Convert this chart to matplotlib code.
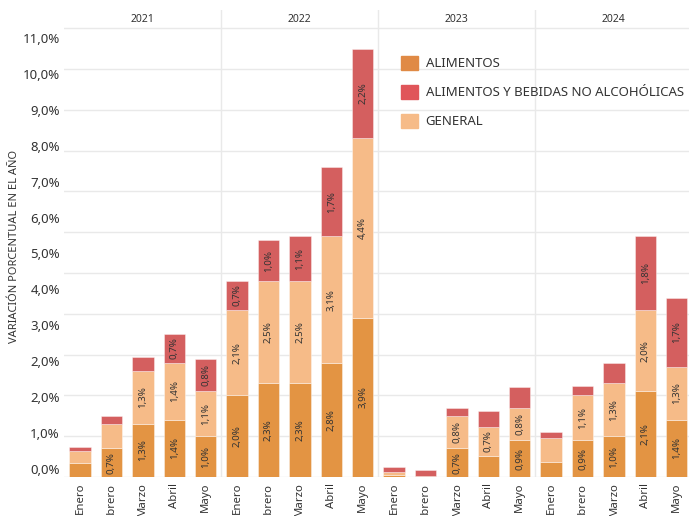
import matplotlib.pyplot as plt
from matplotlib.patches import Patch
from matplotlib.transforms import blended_transform_factory
import numpy as np

plt.rcParams['font.family'] = ['Noto Sans', 'DejaVu Sans']

# datos
anios = ['2021', '2022', '2023', '2024']
meses = ['Enero', 'Febrero', 'Marzo', 'Abril', 'Mayo'] * 4
alimentos = [0.35, 0.7, 1.3, 1.4, 1.0,
             2.0, 2.3, 2.3, 2.8, 3.9,
             0.06, 0.01, 0.7, 0.52, 0.9,
             0.38, 0.9, 1.0, 2.1, 1.4]
general = [0.28, 0.6, 1.3, 1.4, 1.1,
           2.1, 2.5, 2.5, 3.1, 4.4,
           0.06, 0.01, 0.8, 0.7, 0.8,
           0.58, 1.1, 1.3, 2.0, 1.3]
bebidas = [0.11, 0.2, 0.35, 0.7, 0.8,
           0.7, 1.0, 1.1, 1.7, 2.2,
           0.12, 0.15, 0.2, 0.4, 0.5,
           0.14, 0.23, 0.49, 1.8, 1.7]
ytick_labels = ['0,0%', '1,0%', '2,0%', '2,0%', '3,0%', '4,0%', '5,0%',
                '6,0%', '7,0%', '8,0%', '9,0%', '10,0%', '11,0%']

c_alim = '#E39443'
c_beb = '#D45F5F'
c_gen = '#F6BB88'
txt = '#333333'
grid_c = '#E9E9E9'

fig = plt.figure(figsize=(6.89, 5.16), dpi=100)
ax = fig.add_axes([64/689, 39/516, 625/689, 467/516])

x = np.arange(len(meses))
w = 0.68
edge = dict(edgecolor=(1, 1, 1, 0.45), linewidth=0.6)
ax.bar(x, alimentos, w, color=c_alim, zorder=3, **edge)
ax.bar(x, general, w, bottom=alimentos, color=c_gen, zorder=3, **edge)
bottom3 = np.array(alimentos) + np.array(general)
ax.bar(x, bebidas, w, bottom=bottom3, color=c_beb, zorder=3, **edge)

# etiquetas dentro de los segmentos
for vals, bottoms in [(alimentos, np.zeros(len(x))),
                      (general, np.array(alimentos)),
                      (bebidas, bottom3)]:
    for xi, v, b in zip(x, vals, bottoms):
        if v >= 0.65:
            ax.text(xi, b + v / 2, f'{v:.1f}%'.replace('.', ','),
                    rotation=90, ha='center', va='center',
                    fontsize=7, color=txt, zorder=4)

ax.set_xlim(-0.51, 19.39)
ax.set_ylim(0, 11.45)

# rejilla
ax.yaxis.remove_overlapping_locs = False
ax.set_yticks(np.arange(0, 12))
ax.set_yticklabels([])
ax.tick_params(axis='y', which='major', length=0)
ax.grid(axis='y', color=grid_c, linewidth=1, zorder=0)
ax.set_yticks(0.2 + 0.88 * np.arange(len(ytick_labels)), ytick_labels, minor=True)
ax.tick_params(axis='y', which='minor', length=0, labelsize=9.5, labelcolor=txt, pad=3)

ax.set_xticks(x, meses, rotation=90, fontsize=8.2, color=txt, va='top')
ax.tick_params(axis='x', length=0, pad=4)

for s in ax.spines.values():
    s.set_visible(False)

for sep in [4.5, 9.5, 14.5]:
    ax.axvline(sep, color=grid_c, linewidth=1, zorder=0)

tr = blended_transform_factory(ax.transData, ax.transAxes)
for i, a in enumerate(anios):
    ax.text(i * 5 + 2, (477 - 20) / 467, a, transform=tr, ha='center', va='center',
            fontsize=7.5, color=txt)

fig.text(15/689, 1 - 246/516, 'VARIACIÓN PORCENTUAL EN EL AÑO', rotation=90,
         ha='center', va='center', fontsize=8, color=txt)

handles = [Patch(color='#E08A45', label='ALIMENTOS'),
           Patch(color='#E0555A', label='ALIMENTOS Y BEBIDAS NO ALCOHÓLICAS'),
           Patch(color=c_gen, label='GENERAL')]
fig.legend(handles=handles, loc='upper left', bbox_to_anchor=(394/689, 1 - 49/516),
           frameon=False, fontsize=9.5, handlelength=1.3, handleheight=1.3,
           labelspacing=1.1, handletextpad=0.6, borderpad=0, labelcolor=txt)

fig.savefig('out.png', dpi=100)
